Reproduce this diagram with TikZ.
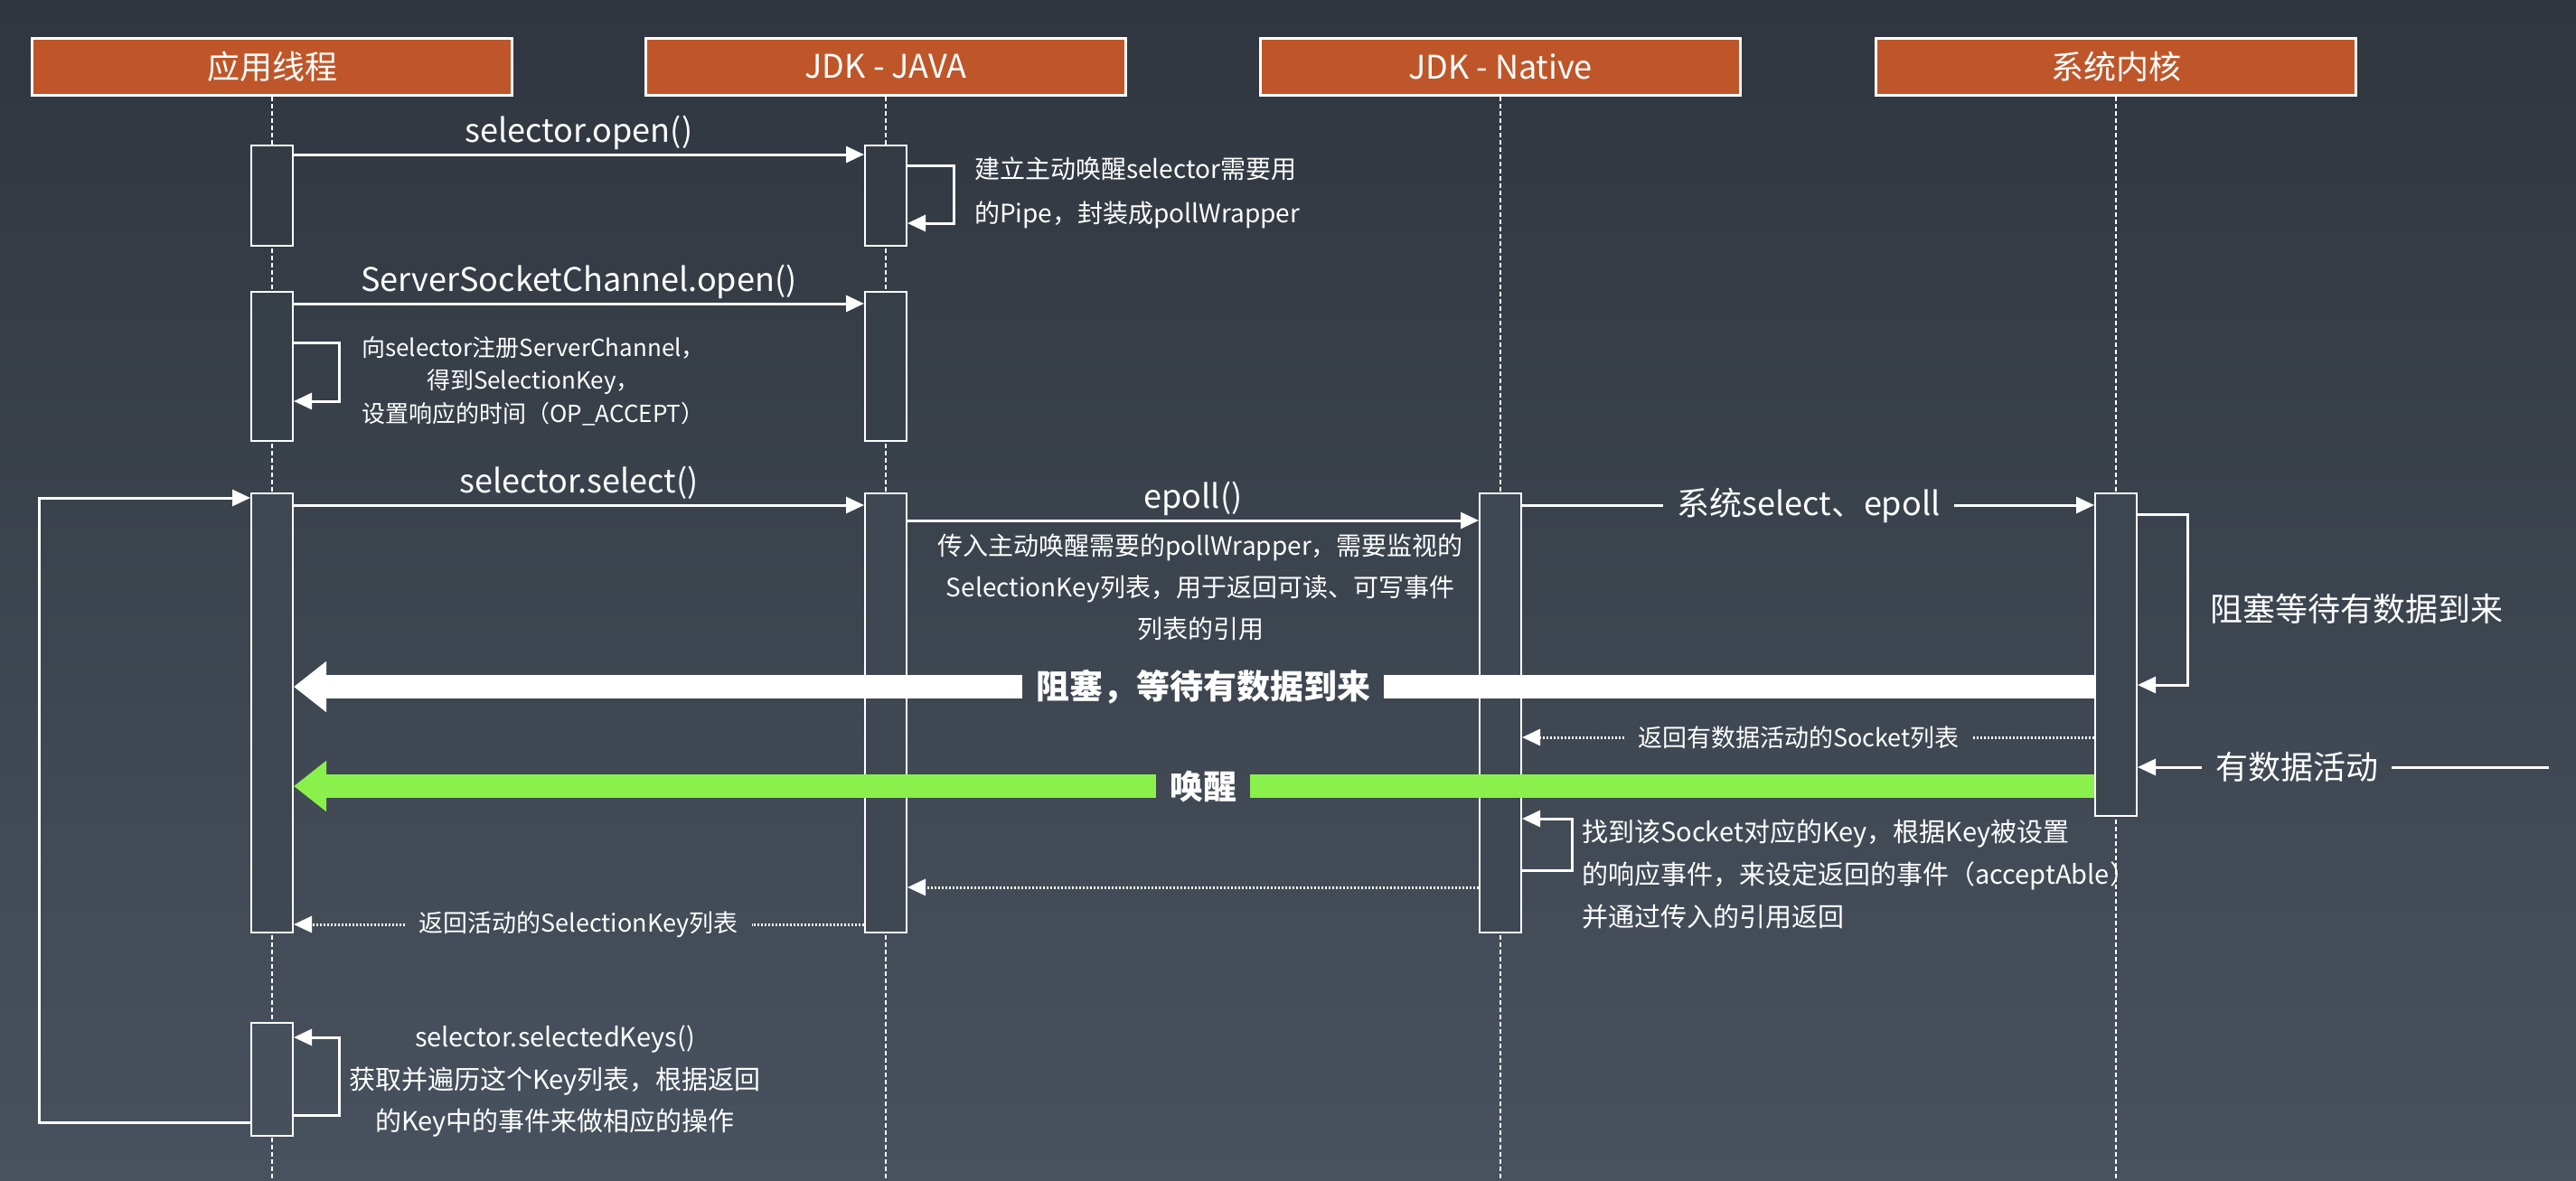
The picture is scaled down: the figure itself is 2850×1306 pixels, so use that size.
\documentclass[tikz,border=0pt]{standalone}
\usepackage{fontspec}
\setmainfont{Noto Sans CJK SC}
\usetikzlibrary{arrows.meta}
\definecolor{bgtop}{HTML}{30363F}
\definecolor{bgbot}{HTML}{48525E}
\definecolor{hdrorange}{HTML}{BF5629}
\definecolor{wakegreen}{HTML}{8AF04B}
\tikzset{
  hdr/.style={draw=white, line width=3pt, fill=hdrorange, text=white, minimum width=531pt, minimum height=62pt, font=\fontsize{36}{40}\selectfont},
  life/.style={draw=white, line width=1.6pt, dash pattern=on 5pt off 3pt},
  bar/.style={draw=white, line width=2pt, fill=bgbot!#1!bgtop, minimum width=46pt, inner sep=0pt},
  msg/.style={draw=white, line width=3pt, -{Triangle[length=20pt,width=18pt]}},
  ret/.style={msg, dash pattern=on 2pt off 2pt},
  fat/.style={line width=26pt},
  fathead/.style={fat, -{Triangle[length=36pt,width=54pt]}},
  bigtxt/.style={font=\fontsize{36}{40}\selectfont},
  boldtxt/.style={font=\fontsize{37}{40}\selectfont\bfseries},
  smalltxt/.style={font=\fontsize{27}{30}\selectfont},
  lbl/.style={text=white, inner sep=0pt, bigtxt},
  msglbl/.style={lbl, anchor=base, yshift=14pt},
  gaplbl/.style={text=white, inner xsep=15pt, inner ysep=0pt},
  note/.style n args={2}{text=white, inner sep=0pt, font=\fontsize{#1}{#2}\selectfont}
}
\begin{document}
\begin{tikzpicture}[x=1pt, y=-1pt]
  \shade[top color=bgtop, bottom color=bgbot] (0,0) rectangle (2850,1306);
  \useasboundingbox (0,0) rectangle (2850,1306);
  \coordinate (bot) at (0,1306);

  \node[hdr] (app) at (301,74) {应用线程};
  \node[hdr] (jjava) at (980,74) {JDK - JAVA};
  \node[hdr] (jnat) at (1660,74) {JDK - Native};
  \node[hdr] (kern) at (2341,74) {系统内核};
  \foreach \h in {app,jjava,jnat,kern}
    \draw[life] (\h.south) -- (\h.south |- bot);

  \node[bar=17, minimum height=111pt] (a1) at (301,216.5) {};
  \node[bar=17, minimum height=111pt] (a2) at (980,216.5) {};
  \node[bar=31, minimum height=165pt] (b1) at (301,405.5) {};
  \node[bar=31, minimum height=165pt] (b2) at (980,405.5) {};
  \node[bar=60, minimum height=486pt] (c1) at (301,789) {};
  \node[bar=60, minimum height=486pt] (c2) at (980,789) {};
  \node[bar=60, minimum height=486pt] (c3) at (1660,789) {};
  \node[bar=55, minimum height=357pt] (c4) at (2341,724.5) {};
  \node[bar=91, minimum height=125pt] (d1) at (301,1194.5) {};

  \draw[msg] ([yshift=-11pt]a1.north east) -- node[msglbl] (lopen) {selector.open()} ([yshift=-11pt]a2.north west);
  \draw[msg] ([yshift=-23pt]a2.north east) -- ++(51,0) |- ([yshift=-87pt]a2.north east);
  \node[note={28}{49}, align=left, anchor=west] (npipe) at (1078,213.5) {建立主动唤醒selector需要用\\的Pipe，封装成pollWrapper};

  \draw[msg] ([yshift=-14pt]b1.north east) -- node[msglbl] (lssc) {ServerSocketChannel.open()} ([yshift=-14pt]b2.north west);
  \draw[msg] ([yshift=-57pt]b1.north east) -- ++(50,0) |- ([yshift=-122pt]b1.north east);
  \node[note={26}{36.5}, align=center] (nreg) at (590,421.5) {向selector注册ServerChannel，\\得到SelectionKey，\\设置响应的时间（OP\_ACCEPT）};

  \draw[msg] ([yshift=-14pt]c1.north east) -- node[msglbl] (lsel) {selector.select()} ([yshift=-14pt]c2.north west);
  \draw[msg] ([yshift=16pt]d1.south west) -- ++(-234,0) |- ([yshift=-6pt]c1.north west);
  \draw[msg] ([yshift=-31pt]c2.north east) -- node[msglbl] (lepoll) {epoll()} ([yshift=-31pt]c3.north west);
  \node[note={28}{46}, align=center] (nepoll) at (1328,650) {传入主动唤醒需要的pollWrapper，需要监视的\\SelectionKey列表，用于返回可读、可写事件\\列表的引用};

  \node[gaplbl, bigtxt] (lsys) at (2001,559) {系统select、epoll};
  \draw[msg, -] (c3.east |- lsys) -- (lsys.west);
  \draw[msg] (lsys.east) -- (c4.west |- lsys);
  \draw[msg] ([yshift=-24pt]c4.north east) -- ++(55,0) |- ([yshift=-213pt]c4.north east);
  \node[lbl, anchor=west] (lwait) at (2445,674) {阻塞等待有数据到来};

  \node[gaplbl, boldtxt] (lblock) at (1331,760) {阻塞，等待有数据到来};
  \draw[fat, white] (c4.west |- lblock) -- (lblock.east);
  \draw[fathead, white] (lblock.west) -- (c1.east |- lblock);

  \node[gaplbl, smalltxt] (lsock) at (1990,816) {返回有数据活动的Socket列表};
  \draw[ret, -] (c4.west |- lsock) -- (lsock.east);
  \draw[ret] (lsock.west) -- (c3.east |- lsock);

  \coordinate (src) at (2820,849);
  \node[gaplbl, bigtxt] (ldata) at (2541,849) {有数据活动};
  \draw[msg, -] (src) -- (ldata.east);
  \draw[msg] (ldata.west) -- (c4.east |- ldata);

  \node[gaplbl, boldtxt] (lwake) at (1331,870) {唤醒};
  \draw[fat, wakegreen] (c4.west |- lwake) -- (lwake.east);
  \draw[fathead, wakegreen] (lwake.west) -- (c1.east |- lwake);

  \draw[msg] ([yshift=-418pt]c3.north east) -- ++(55,0) |- ([yshift=-361pt]c3.north east);
  \node[note={29}{47}, align=left, anchor=west] (nfind) at (1750,967) {找到该Socket对应的Key，根据Key被设置\\的响应事件，来设定返回的事件（acceptAble）\\并通过传入的引用返回};
  \draw[ret] ([yshift=-437pt]c3.north west) -- ([yshift=-437pt]c2.north east);

  \node[gaplbl, smalltxt] (lkeys) at (640,1023) {返回活动的SelectionKey列表};
  \draw[ret, -] (c2.west |- lkeys) -- (lkeys.east);
  \draw[ret] (lkeys.west) -- (c1.east |- lkeys);

  \draw[msg] ([yshift=-103pt]d1.north east) -- ++(50,0) |- ([yshift=-17pt]d1.north east);
  \node[note={29}{46.5}, align=center] (nkeys) at (614,1197) {selector.selectedKeys()\\获取并遍历这个Key列表，根据返回\\的Key中的事件来做相应的操作};
\end{tikzpicture}
\end{document}
